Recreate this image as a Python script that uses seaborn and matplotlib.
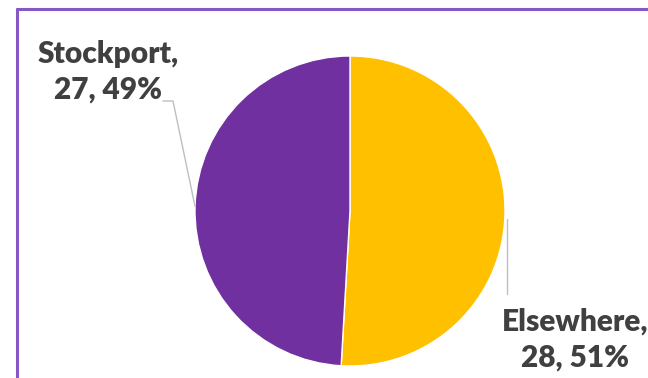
import numpy as np
import matplotlib
matplotlib.use('Agg')
import matplotlib.pyplot as plt
import seaborn as sns
from matplotlib.lines import Line2D
from matplotlib.transforms import IdentityTransform

# Data
categories = ['Elsewhere', 'Stockport']
counts = [28, 27]
colors = ['#FFC000', '#7030A0']

sns.set_theme(style='white')
plt.rcParams['font.family'] = ['Lato', 'DejaVu Sans']

W, H = 648, 378
fig = plt.figure(figsize=(W / 100, H / 100), dpi=100)
fig.patch.set_facecolor('white')

# pie placement (pixels, y from top)
cx, cy, r = 350, 211, 155
ax = fig.add_axes([(cx - r) / W, (H - cy - r) / H, 2 * r / W, 2 * r / H])
wedges, _ = ax.pie(counts, colors=colors, startangle=90, counterclock=False,
                   wedgeprops=dict(edgecolor='white', linewidth=1.0))
ax.set_xlim(-1, 1)
ax.set_ylim(-1, 1)
ax.axis('off')

total = sum(counts)
ident = IdentityTransform()
text_kw = dict(ha='center', va='center', fontsize=21.5, fontweight='heavy',
               color='#404040', linespacing=1.35)

# label positions in pixels (x, y from top)
label_pos = {'Stockport': (108, 72), 'Elsewhere': (575, 340)}

for w, cat, n in zip(wedges, categories, counts):
    pct = round(100 * n / total)
    x, y = label_pos[cat]
    fig.text(x / W, 1 - y / H, f"{cat},\n{n}, {pct}%", **text_kw)
    ang = np.deg2rad((w.theta1 + w.theta2) / 2)
    px, py = ax.transData.transform((np.cos(ang), np.sin(ang)))
    if cat == 'Stockport':
        xs = [163, 173, px]
        ys = [H - 101, H - 101, py]
    else:
        xs = [px + 2, px + 2]
        ys = [py - 4, H - 294]
    fig.add_artist(Line2D(xs, ys, transform=ident, color='#BFBFBF', lw=1.0))

# frame (partially cropped)
frame_col = '#8558C4'
fig.add_artist(Line2D([17, 17], [-10, H - 9], transform=ident, color=frame_col, lw=2.2))
fig.add_artist(Line2D([17, W + 10], [H - 9, H - 9], transform=ident, color=frame_col, lw=2.2))

fig.savefig('out.png', dpi=100)
